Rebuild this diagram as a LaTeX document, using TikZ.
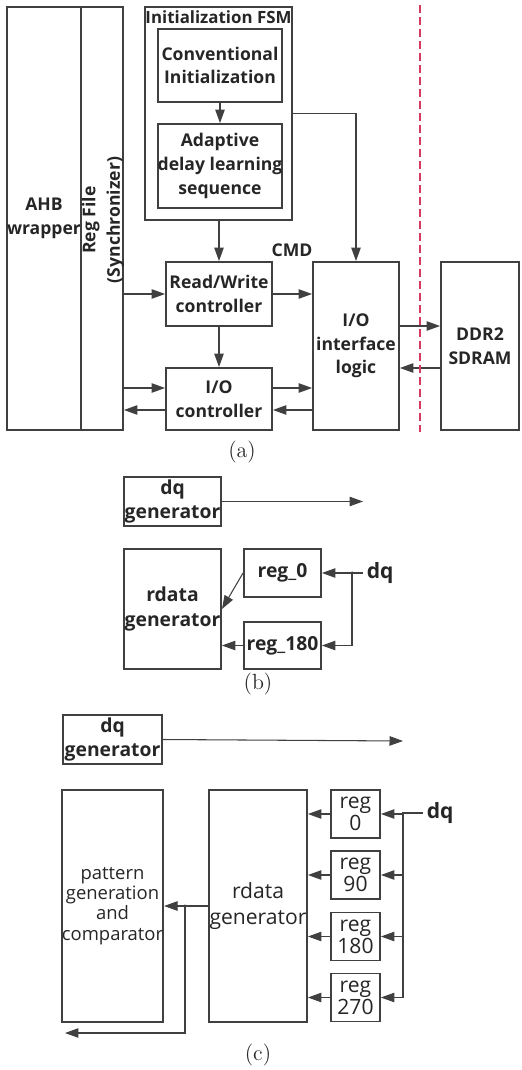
\documentclass[tikz,border=0pt]{standalone}
\usepackage{fontspec}
\newfontfamily\diagfont{Open Sans}
\usetikzlibrary{arrows.meta}
\usepackage{xcolor}
\definecolor{LineGray}{HTML}{404040}
\definecolor{TextGray}{HTML}{262626}
\definecolor{CutRed}{HTML}{D63A5E}

\begin{document}
\begin{tikzpicture}[x=0.02cm,y=-0.02cm,
    blk/.style={draw=LineGray,line width=1.1pt,align=center,inner sep=0pt,text=TextGray,
      font=\diagfont\bfseries\fontsize{10}{13.5}\selectfont},
    bblk/.style={blk,font=\diagfont\bfseries\fontsize{11}{14}\selectfont},
    cblk/.style={blk,font=\diagfont\fontsize{12}{14}\selectfont},
    txt/.style={inner sep=2pt,text=TextGray,font=\diagfont\bfseries\fontsize{10}{14}\selectfont},
    arr/.style={draw=LineGray,line width=0.6pt,-{Triangle[length=0.27cm,width=0.19cm]}},
    wire/.style={draw=LineGray,line width=0.6pt},
    subcap/.style={text=TextGray,font=\fontsize{12.5}{14}\selectfont}]
    \useasboundingbox (0,0) rectangle (521,1070);

    % (a) controller blocks
    \node[blk,minimum width=1.48cm,minimum height=8.46cm] (ahb) at (44,218.5) {AHB\\wrapper};
    \node[blk,minimum width=0.84cm,minimum height=8.46cm] (regf) at (102,218.5) {};
    \node[txt,rotate=90,align=center] (regflbl) at (103,220) {Reg File\\(Synchronizer)};
    \node[blk,minimum width=2.94cm,minimum height=4.26cm] (fsm) at (218.5,113.5) {};
    \node[txt,font=\diagfont\bfseries\fontsize{9.6}{12}\selectfont] (fsmlbl) at (218.5,17) {Initialization FSM};
    \node[blk,minimum width=2.48cm,minimum height=1.46cm] (conv) at (220,65.5) {Conventional\\Initialization};
    \node[blk,minimum width=2.48cm,minimum height=1.68cm] (adapt) at (220,166) {Adaptive\\delay learning\\sequence};
    \node[blk,minimum width=2.12cm,minimum height=1.28cm] (rw) at (219,294) {Read/Write\\controller};
    \node[blk,minimum width=2.12cm,minimum height=1.24cm] (ioc) at (219,399) {I/O\\controller};
    \node[blk,minimum width=1.72cm,minimum height=3.36cm] (iof) at (356,346) {I/O\\interface\\logic};
    \node[blk,minimum width=1.56cm,minimum height=3.36cm] (ddr) at (480,346) {DDR2\\SDRAM};
    \node[txt] (cmd) at (292,250) {CMD};

    % (a) connections
    \draw[arr] (conv) -- (adapt);
    \draw[arr] (rw.north |- fsm.south) -- (rw.north);
    \draw[arr] (fsm.east) -| (iof.north);
    \draw[arr] (regf.east |- rw.west) -- (rw.west);
    \draw[arr] (rw.east) -- (rw.east -| iof.west);
    \draw[arr] (rw) -- (ioc);
    \coordinate (iocin) at ([yshift=0.22cm]ioc.west);
    \coordinate (iocout) at ([yshift=-0.22cm]ioc.west);
    \draw[arr] (regf.east |- iocin) -- (iocin);
    \draw[arr] (iocout) -- (regf.east |- iocout);
    \coordinate (iocr1) at ([yshift=0.22cm]ioc.east);
    \coordinate (iocr2) at ([yshift=-0.22cm]ioc.east);
    \draw[arr] (iocr1) -- (iof.west |- iocr1);
    \draw[arr] (iof.west |- iocr2) -- (iocr2);
    \coordinate (wrout) at ([yshift=0.4cm]iof.east);
    \coordinate (rdout) at ([yshift=-0.44cm]ddr.west);
    \draw[arr] (wrout) -- (ddr.west |- wrout);
    \draw[arr] (rdout) -- (iof.east |- rdout);
    \draw[CutRed,line width=0.9pt,dash pattern=on 0.16cm off 0.08cm] (420,5) -- (420,432);
    \node[subcap] (capa) at (242,452) {(a)};

    % (b) two-phase capture
    \node[bblk,minimum width=1.94cm,minimum height=0.98cm] (dqb) at (172.5,501.5) {dq\\generator};
    \node[bblk,minimum width=1.94cm,minimum height=2.4cm] (rdb) at (172.5,609) {rdata\\generator};
    \node[bblk,minimum width=1.54cm,minimum height=0.96cm] (r0b) at (282.5,573) {reg\_0};
    \node[bblk,minimum width=1.54cm,minimum height=0.94cm] (r180b) at (282.5,645.5) {reg\_180};
    \node[txt,anchor=west,font=\diagfont\bfseries\fontsize{12}{13}\selectfont] (dqinb) at (363,573) {dq};
    \coordinate (dqbend) at (363,501.5);
    \coordinate (tapb) at (352,573);
    \draw[arr] (dqb.east) -- (dqbend);
    \draw[wire] (dqinb.west) -- (tapb);
    \fill[LineGray] (tapb) circle (0.035cm);
    \draw[arr] (tapb) -- (r0b.east);
    \draw[arr] (tapb) |- (r180b.east);
    \draw[arr] (r0b.west) -- (rdb.east);
    \draw[arr] (r180b.west) -- (rdb.east |- r180b.west);
    \node[subcap] (capb) at (258,684) {(b)};

    % (c) four-phase capture
    \node[bblk,minimum width=1.98cm,minimum height=0.98cm] (dqc) at (112.5,739.5) {dq\\generator};
    \node[cblk,minimum width=1.98cm,minimum height=4.64cm,font=\diagfont\fontsize{10.5}{11.5}\selectfont] (pat) at (112.5,906) {pattern\\generation\\and\\comparator};
    \node[cblk,minimum width=1.96cm,minimum height=4.64cm,font=\diagfont\fontsize{12}{14.5}\selectfont] (rdc) at (258,906) {rdata\\generator};
    \foreach \n/\y in {0/814,90/875,180/936.5,270/997.5}
      \node[cblk,minimum width=0.98cm,minimum height=0.96cm,font=\diagfont\fontsize{12}{12.5}\selectfont] (rc\n) at (355.5,\y) {reg\\\n};
    \node[txt,anchor=west,font=\diagfont\bfseries\fontsize{12}{13}\selectfont] (dqinc) at (423,813) {dq};
    \coordinate (dqcend) at (403,741);
    \coordinate (busc) at (403,813);
    \draw[arr] (dqc.east) -- (dqcend);
    \draw[wire] (dqinc.west) -- (busc) -- (busc |- rc270.east);
    \foreach \n in {0,90,180,270} {
      \draw[arr] (busc |- rc\n.east) -- (rc\n.east);
      \draw[arr] (rc\n.west) -- (rdc.east |- rc\n.west);
    }
    \coordinate (tapc) at (185,906);
    \coordinate (retc) at (65,1033);
    \draw[arr] (rdc.west) -- (pat.east);
    \fill[LineGray] (tapc) circle (0.035cm);
    \draw[arr] (tapc) |- (retc);
    \node[subcap] (capc) at (258,1055) {(c)};
\end{tikzpicture}
\end{document}
